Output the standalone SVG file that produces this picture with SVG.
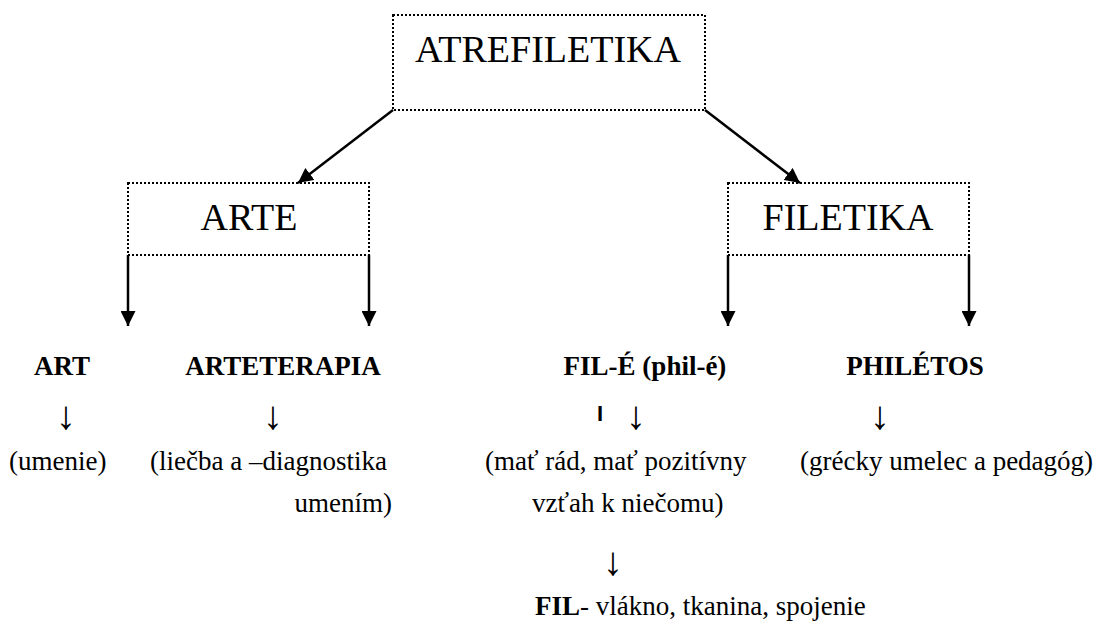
<svg xmlns="http://www.w3.org/2000/svg" width="1116" height="630" viewBox="0 0 1116 630">
<style>
.box{fill:none;stroke:#000;stroke-width:2;stroke-dasharray:2 2}
.big{font-family:"Liberation Serif","Times New Roman",serif;font-size:38px;text-anchor:middle}
.t{font-family:"Liberation Serif","Times New Roman",serif;font-size:27px}
.b{font-weight:bold}
.c{text-anchor:middle}
.ar{font-family:"Liberation Serif","Times New Roman",serif;font-size:40px;text-anchor:middle}
.bar{font-family:"Liberation Sans",Arial,sans-serif;font-size:22px;font-weight:bold;text-anchor:middle}
.conn{stroke:#000;stroke-width:2.5;fill:none;marker-end:url(#ah)}
</style>
<defs>
<marker id="ah" viewBox="0 0 10 10" refX="10" refY="5" markerWidth="6" markerHeight="6" markerUnits="strokeWidth" orient="auto">
<path d="M0,0 L10,5 L0,10 z" fill="#000"/>
</marker>
</defs>
<rect width="1116" height="630" fill="#fff"/>
<g id="connectors">
<line class="conn" x1="393" y1="110" x2="298" y2="183"/>
<line class="conn" x1="705" y1="110" x2="800" y2="183"/>
<line class="conn" x1="128" y1="255" x2="128" y2="326"/>
<line class="conn" x1="369" y1="255" x2="369" y2="326"/>
<line class="conn" x1="728" y1="255" x2="728" y2="326"/>
<line class="conn" x1="969" y1="255" x2="969" y2="326"/>
</g>
<g id="atrefiletika">
<rect class="box" x="393" y="15" width="312" height="95"/>
<text class="big" x="548" y="62">ATREFILETIKA</text>
</g>
<g id="arte">
<rect class="box" x="128" y="183" width="241" height="72"/>
<text class="big" x="249" y="230">ARTE</text>
</g>
<g id="filetika">
<rect class="box" x="728" y="183" width="241" height="72"/>
<text class="big" x="848" y="230">FILETIKA</text>
</g>
<g id="art">
<text class="t b c" x="62" y="375">ART</text>
<text class="ar" x="66" y="429">↓</text>
<text class="t" x="9" y="470">(umenie)</text>
</g>
<g id="arteterapia">
<text class="t b c" x="283" y="375">ARTETERAPIA</text>
<text class="ar" x="273" y="429">↓</text>
<text class="t" x="150" y="470">(liečba a –diagnostika</text>
<text class="t" x="392" y="512" text-anchor="end">umením)</text>
</g>
<g id="file">
<text class="t b c" x="645" y="375">FIL-É (phil-é)</text>
<text class="bar" x="600" y="421">I</text>
<text class="ar" x="636" y="429">↓</text>
<text class="t" x="485" y="470">(mať rád, mať pozitívny</text>
<text class="t" x="532" y="512">vzťah k niečomu)</text>
<text class="ar" x="613" y="575">↓</text>
<text class="t" x="535" y="615"><tspan class="b">FIL</tspan>- vlákno, tkanina, spojenie</text>
</g>
<g id="philetos">
<text class="t b c" x="915" y="375">PHILÉTOS</text>
<text class="ar" x="880" y="429">↓</text>
<text class="t" x="800" y="470">(grécky umelec a pedagóg)</text>
</g>
</svg>
